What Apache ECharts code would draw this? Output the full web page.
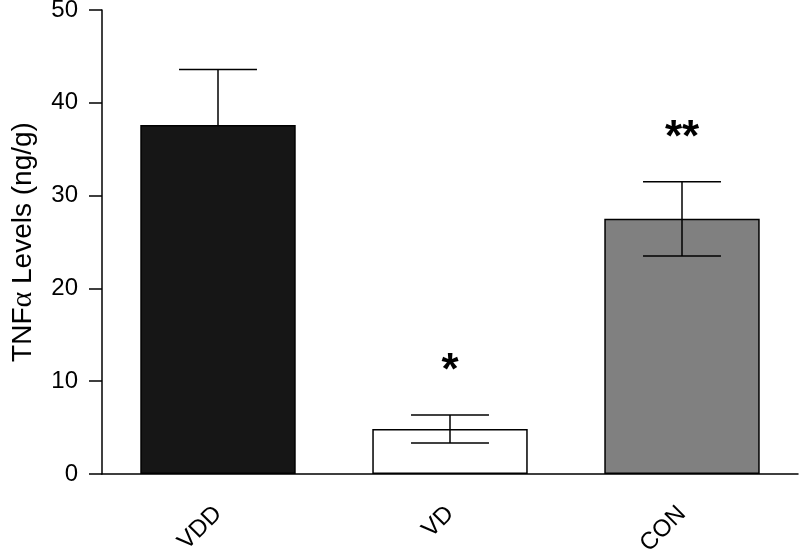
<!DOCTYPE html>
<html>
<head>
<meta charset="utf-8">
<script src="https://cdn.jsdelivr.net/npm/echarts@6/dist/echarts.min.js"></script>
<style>html,body{margin:0;padding:0;background:#fff;}#c{width:800px;height:552px;}</style>
</head>
<body>
<div id="c"></div>
<script>
var categories = ['VDD', 'VD', 'CON'];
var means = [37.6, 4.85, 27.5];
var errUp = [6.0, 1.5, 4.0];
var errDown = [0, 1.5, 4.0];
var stars = ['', '*', '**'];
var barColors = ['#161616', '#ffffff', '#808080'];
var yTicks = [0, 10, 20, 30, 40, 50];

var chart = echarts.init(document.getElementById('c'));
var FONT = 'Liberation Sans';

var barData = means.map(function (v, i) {
  return { value: v, itemStyle: { color: barColors[i] } };
});
var errData = means.map(function (v, i) {
  return [i, v - errDown[i], v + errUp[i], stars[i], v];
});

chart.setOption({
  animation: false,
  backgroundColor: '#fff',
  grid: { left: 102, right: 2, top: 10, bottom: 78, containLabel: false, outerBoundsMode: 'none' },
  xAxis: {
    type: 'category',
    data: categories,
    axisLine: { lineStyle: { color: '#000', width: 1.5 } },
    axisTick: { alignWithLabel: true, length: 13, lineStyle: { color: '#000', width: 1.5 } },
    axisLabel: { rotate: 45, margin: 36, color: '#000', fontSize: 24, fontFamily: FONT }
  },
  yAxis: {
    type: 'value',
    min: yTicks[0],
    max: yTicks[yTicks.length - 1],
    interval: 10,
    splitLine: { show: false },
    axisLine: { show: true, lineStyle: { color: '#000', width: 1.5 } },
    axisTick: { show: true, length: 13, lineStyle: { color: '#000', width: 1.5 } },
    axisLabel: { margin: 24, color: '#000', fontSize: 24, fontFamily: FONT },
    name: '{a|TNF}{b|α}{a| Levels (ng/g)}',
    nameLocation: 'middle',
    nameGap: 64,
    nameTextStyle: {
      rich: {
        a: { fontSize: 28, fontFamily: FONT, color: '#000' },
        b: { fontSize: 30, fontFamily: 'Liberation Serif', color: '#000' }
      }
    }
  },
  series: [
    {
      type: 'bar',
      data: barData,
      barWidth: '67%',
      itemStyle: { borderColor: '#000', borderWidth: 1.5 },
      z: 2
    },
    {
      type: 'custom',
      data: errData,
      z: 5,
      renderItem: function (params, api) {
        var x = api.value(0);
        var lo = api.coord([x, api.value(1)]);
        var hi = api.coord([x, api.value(2)]);
        var mid = api.coord([x, api.value(4)]);
        var half = api.size([1, 0])[0] * 0.168;
        var st = { stroke: '#000', lineWidth: 1.5 };
        var children = [
          { type: 'line', shape: { x1: hi[0], y1: hi[1], x2: lo[0], y2: lo[1] }, style: st },
          { type: 'line', shape: { x1: hi[0] - half, y1: hi[1], x2: hi[0] + half, y2: hi[1] }, style: st }
        ];
        if (Math.abs(lo[1] - mid[1]) > 0.5) {
          children.push({ type: 'line', shape: { x1: lo[0] - half, y1: lo[1], x2: lo[0] + half, y2: lo[1] }, style: st });
        }
        var s = api.value(3);
        if (s) {
          children.push({
            type: 'text',
            style: {
              x: hi[0], y: hi[1] - 43, text: s,
              fontSize: 44, fontWeight: 'bold', fontFamily: FONT,
              fill: '#000', align: 'center', verticalAlign: 'middle'
            }
          });
        }
        return { type: 'group', children: children };
      }
    }
  ]
});
</script>
</body>
</html>
